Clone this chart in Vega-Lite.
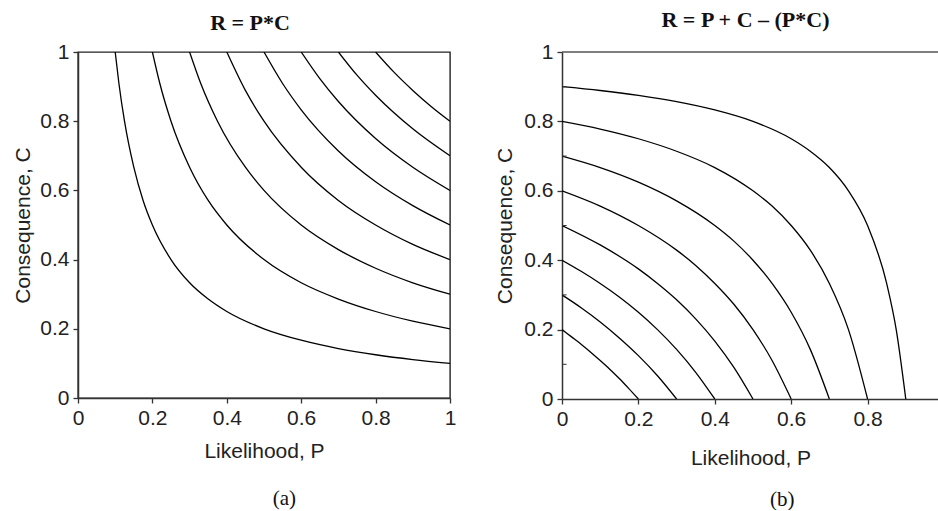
{
  "$schema": "https://vega.github.io/schema/vega-lite/v6.json",
  "padding": {"left": 12, "top": 9, "right": 0, "bottom": 0},
  "background": "white",
  "datasets": {
    "a": [
      {"R": 0.1, "P": 0.1, "C": 1}, {"R": 0.1, "P": 0.11, "C": 0.909}, {"R": 0.1, "P": 0.125, "C": 0.8}, {"R": 0.1, "P": 0.15, "C": 0.667}, {"R": 0.1, "P": 0.175, "C": 0.571}, {"R": 0.1, "P": 0.2, "C": 0.5}, {"R": 0.1, "P": 0.25, "C": 0.4}, {"R": 0.1, "P": 0.3, "C": 0.333}, {"R": 0.1, "P": 0.35, "C": 0.286}, {"R": 0.1, "P": 0.4, "C": 0.25}, {"R": 0.1, "P": 0.5, "C": 0.2}, {"R": 0.1, "P": 0.6, "C": 0.167}, {"R": 0.1, "P": 0.7, "C": 0.143}, {"R": 0.1, "P": 0.8, "C": 0.125}, {"R": 0.1, "P": 0.9, "C": 0.111}, {"R": 0.1, "P": 1.0, "C": 0.1},
      {"R": 0.2, "P": 0.2, "C": 1}, {"R": 0.2, "P": 0.22, "C": 0.909}, {"R": 0.2, "P": 0.25, "C": 0.8}, {"R": 0.2, "P": 0.3, "C": 0.667}, {"R": 0.2, "P": 0.35, "C": 0.571}, {"R": 0.2, "P": 0.4, "C": 0.5}, {"R": 0.2, "P": 0.5, "C": 0.4}, {"R": 0.2, "P": 0.6, "C": 0.333}, {"R": 0.2, "P": 0.7, "C": 0.286}, {"R": 0.2, "P": 0.8, "C": 0.25}, {"R": 0.2, "P": 0.9, "C": 0.222}, {"R": 0.2, "P": 1.0, "C": 0.2},
      {"R": 0.3, "P": 0.3, "C": 1}, {"R": 0.3, "P": 0.33, "C": 0.909}, {"R": 0.3, "P": 0.375, "C": 0.8}, {"R": 0.3, "P": 0.45, "C": 0.667}, {"R": 0.3, "P": 0.5, "C": 0.6}, {"R": 0.3, "P": 0.6, "C": 0.5}, {"R": 0.3, "P": 0.7, "C": 0.429}, {"R": 0.3, "P": 0.8, "C": 0.375}, {"R": 0.3, "P": 0.9, "C": 0.333}, {"R": 0.3, "P": 1.0, "C": 0.3},
      {"R": 0.4, "P": 0.4, "C": 1}, {"R": 0.4, "P": 0.45, "C": 0.889}, {"R": 0.4, "P": 0.5, "C": 0.8}, {"R": 0.4, "P": 0.6, "C": 0.667}, {"R": 0.4, "P": 0.7, "C": 0.571}, {"R": 0.4, "P": 0.8, "C": 0.5}, {"R": 0.4, "P": 0.9, "C": 0.444}, {"R": 0.4, "P": 1.0, "C": 0.4},
      {"R": 0.5, "P": 0.5, "C": 1}, {"R": 0.5, "P": 0.55, "C": 0.909}, {"R": 0.5, "P": 0.6, "C": 0.833}, {"R": 0.5, "P": 0.7, "C": 0.714}, {"R": 0.5, "P": 0.8, "C": 0.625}, {"R": 0.5, "P": 0.9, "C": 0.556}, {"R": 0.5, "P": 1.0, "C": 0.5},
      {"R": 0.6, "P": 0.6, "C": 1}, {"R": 0.6, "P": 0.65, "C": 0.923}, {"R": 0.6, "P": 0.7, "C": 0.857}, {"R": 0.6, "P": 0.8, "C": 0.75}, {"R": 0.6, "P": 0.9, "C": 0.667}, {"R": 0.6, "P": 1.0, "C": 0.6},
      {"R": 0.7, "P": 0.7, "C": 1}, {"R": 0.7, "P": 0.75, "C": 0.933}, {"R": 0.7, "P": 0.8, "C": 0.875}, {"R": 0.7, "P": 0.9, "C": 0.778}, {"R": 0.7, "P": 1.0, "C": 0.7},
      {"R": 0.8, "P": 0.8, "C": 1}, {"R": 0.8, "P": 0.85, "C": 0.941}, {"R": 0.8, "P": 0.9, "C": 0.889}, {"R": 0.8, "P": 0.95, "C": 0.842}, {"R": 0.8, "P": 1.0, "C": 0.8}
    ],
    "b": [
      {"R": 0.2, "P": 0, "C": 0.2}, {"R": 0.2, "P": 0.025, "C": 0.179}, {"R": 0.2, "P": 0.05, "C": 0.158}, {"R": 0.2, "P": 0.075, "C": 0.135}, {"R": 0.2, "P": 0.1, "C": 0.111}, {"R": 0.2, "P": 0.125, "C": 0.086}, {"R": 0.2, "P": 0.15, "C": 0.059}, {"R": 0.2, "P": 0.175, "C": 0.03}, {"R": 0.2, "P": 0.2, "C": 0},
      {"R": 0.3, "P": 0, "C": 0.3}, {"R": 0.3, "P": 0.05, "C": 0.263}, {"R": 0.3, "P": 0.1, "C": 0.222}, {"R": 0.3, "P": 0.15, "C": 0.176}, {"R": 0.3, "P": 0.2, "C": 0.125}, {"R": 0.3, "P": 0.25, "C": 0.067}, {"R": 0.3, "P": 0.3, "C": 0},
      {"R": 0.4, "P": 0, "C": 0.4}, {"R": 0.4, "P": 0.05, "C": 0.368}, {"R": 0.4, "P": 0.1, "C": 0.333}, {"R": 0.4, "P": 0.15, "C": 0.294}, {"R": 0.4, "P": 0.2, "C": 0.25}, {"R": 0.4, "P": 0.25, "C": 0.2}, {"R": 0.4, "P": 0.3, "C": 0.143}, {"R": 0.4, "P": 0.35, "C": 0.077}, {"R": 0.4, "P": 0.4, "C": 0},
      {"R": 0.5, "P": 0, "C": 0.5}, {"R": 0.5, "P": 0.1, "C": 0.444}, {"R": 0.5, "P": 0.2, "C": 0.375}, {"R": 0.5, "P": 0.25, "C": 0.333}, {"R": 0.5, "P": 0.3, "C": 0.286}, {"R": 0.5, "P": 0.35, "C": 0.231}, {"R": 0.5, "P": 0.4, "C": 0.167}, {"R": 0.5, "P": 0.45, "C": 0.091}, {"R": 0.5, "P": 0.5, "C": 0},
      {"R": 0.6, "P": 0, "C": 0.6}, {"R": 0.6, "P": 0.1, "C": 0.556}, {"R": 0.6, "P": 0.2, "C": 0.5}, {"R": 0.6, "P": 0.3, "C": 0.429}, {"R": 0.6, "P": 0.35, "C": 0.385}, {"R": 0.6, "P": 0.4, "C": 0.333}, {"R": 0.6, "P": 0.45, "C": 0.273}, {"R": 0.6, "P": 0.5, "C": 0.2}, {"R": 0.6, "P": 0.55, "C": 0.111}, {"R": 0.6, "P": 0.6, "C": 0},
      {"R": 0.7, "P": 0, "C": 0.7}, {"R": 0.7, "P": 0.1, "C": 0.667}, {"R": 0.7, "P": 0.2, "C": 0.625}, {"R": 0.7, "P": 0.3, "C": 0.571}, {"R": 0.7, "P": 0.4, "C": 0.5}, {"R": 0.7, "P": 0.45, "C": 0.455}, {"R": 0.7, "P": 0.5, "C": 0.4}, {"R": 0.7, "P": 0.55, "C": 0.333}, {"R": 0.7, "P": 0.6, "C": 0.25}, {"R": 0.7, "P": 0.65, "C": 0.143}, {"R": 0.7, "P": 0.7, "C": 0},
      {"R": 0.8, "P": 0, "C": 0.8}, {"R": 0.8, "P": 0.1, "C": 0.778}, {"R": 0.8, "P": 0.2, "C": 0.75}, {"R": 0.8, "P": 0.3, "C": 0.714}, {"R": 0.8, "P": 0.4, "C": 0.667}, {"R": 0.8, "P": 0.5, "C": 0.6}, {"R": 0.8, "P": 0.55, "C": 0.556}, {"R": 0.8, "P": 0.6, "C": 0.5}, {"R": 0.8, "P": 0.65, "C": 0.429}, {"R": 0.8, "P": 0.7, "C": 0.333}, {"R": 0.8, "P": 0.75, "C": 0.2}, {"R": 0.8, "P": 0.8, "C": 0},
      {"R": 0.9, "P": 0, "C": 0.9}, {"R": 0.9, "P": 0.1, "C": 0.889}, {"R": 0.9, "P": 0.2, "C": 0.875}, {"R": 0.9, "P": 0.3, "C": 0.857}, {"R": 0.9, "P": 0.4, "C": 0.833}, {"R": 0.9, "P": 0.5, "C": 0.8}, {"R": 0.9, "P": 0.6, "C": 0.75}, {"R": 0.9, "P": 0.65, "C": 0.714}, {"R": 0.9, "P": 0.7, "C": 0.667}, {"R": 0.9, "P": 0.75, "C": 0.6}, {"R": 0.9, "P": 0.8, "C": 0.5}, {"R": 0.9, "P": 0.85, "C": 0.333}, {"R": 0.9, "P": 0.875, "C": 0.2}, {"R": 0.9, "P": 0.9, "C": 0}
    ],
    "minor": [{"C": 0.1}, {"C": 0.3}, {"C": 0.5}, {"C": 0.7}, {"C": 0.9}]
  },
  "spacing": 37,
  "hconcat": [
    {
      "title": {"text": "(a)", "orient": "bottom", "anchor": "middle", "frame": "bounds", "font": "Liberation Serif", "fontSize": 21, "fontWeight": "normal", "color": "#111", "offset": 26, "dx": 50},
      "vconcat": [
        {
          "width": 372,
          "height": 346,
          "title": {"text": "R  = P*C", "font": "Liberation Serif", "fontSize": 22, "fontWeight": "bold", "color": "#111", "offset": 6, "dx": -14},
          "view": {"stroke": "#222", "strokeWidth": 1.4},
          "data": {"name": "a"},
          "mark": {"type": "line", "interpolate": "monotone", "color": "black", "strokeWidth": 1.3, "clip": true},
          "encoding": {
            "x": {"field": "P", "type": "quantitative", "scale": {"domain": [0, 1], "nice": false}, "axis": {"title": "Likelihood, P", "values": [0, 0.2, 0.4, 0.6, 0.8, 1], "titlePadding": 12}},
            "y": {"field": "C", "type": "quantitative", "scale": {"domain": [0, 1], "nice": false}, "axis": {"title": "Consequence, C", "values": [0, 0.2, 0.4, 0.6, 0.8, 1], "titlePadding": 6}},
            "detail": {"field": "R", "type": "nominal"}
          }
        }
      ]
    },
    {
      "title": {"text": "(b)", "orient": "bottom", "anchor": "middle", "frame": "bounds", "font": "Liberation Serif", "fontSize": 21, "fontWeight": "normal", "color": "#111", "offset": 21, "dx": 65},
      "vconcat": [
        {
          "width": 377,
          "height": 347,
          "title": {"text": "R = P + C – (P*C)", "font": "Liberation Serif", "fontSize": 22, "fontWeight": "bold", "color": "#111", "offset": 9, "dx": -5},
          "view": {"stroke": null},
          "layer": [
            {
              "data": {"name": "b"},
              "mark": {"type": "line", "interpolate": "monotone", "color": "black", "strokeWidth": 1.3, "clip": true},
              "encoding": {
                "x": {"field": "P", "type": "quantitative", "scale": {"domain": [0, 0.987], "nice": false}, "axis": {"title": "Likelihood, P", "values": [0, 0.2, 0.4, 0.6, 0.8], "titlePadding": 18}},
                "y": {"field": "C", "type": "quantitative", "scale": {"domain": [0, 1], "nice": false}, "axis": {"title": "Consequence, C", "values": [0, 0.2, 0.4, 0.6, 0.8, 1], "titlePadding": 8}},
                "detail": {"field": "R", "type": "nominal"}
              }
            },
            {
              "data": {"values": [{"C": 1}]},
              "mark": {"type": "rule", "color": "#555", "strokeWidth": 1.6},
              "encoding": {"y": {"field": "C", "type": "quantitative"}}
            },
            {
              "data": {"name": "minor"},
              "mark": {"type": "rule", "color": "#333", "strokeWidth": 1},
              "encoding": {"y": {"field": "C", "type": "quantitative"}, "x": {"datum": 0}, "x2": {"datum": 0.012}}
            }
          ]
        }
      ]
    }
  ],
  "config": {
    "axis": {
      "labelFont": "Liberation Sans",
      "labelFontSize": 21,
      "labelColor": "#222",
      "titleFont": "Liberation Sans",
      "titleFontSize": 21,
      "titleFontWeight": "normal",
      "titleColor": "#222",
      "domainColor": "#333",
      "domainWidth": 1.5,
      "tickColor": "#333",
      "tickWidth": 1.3,
      "tickSize": 5,
      "labelPadding": 4,
      "grid": false,
      "labelFlush": false,
      "labelOverlap": false,
      "format": "~g"
    }
  }
}
